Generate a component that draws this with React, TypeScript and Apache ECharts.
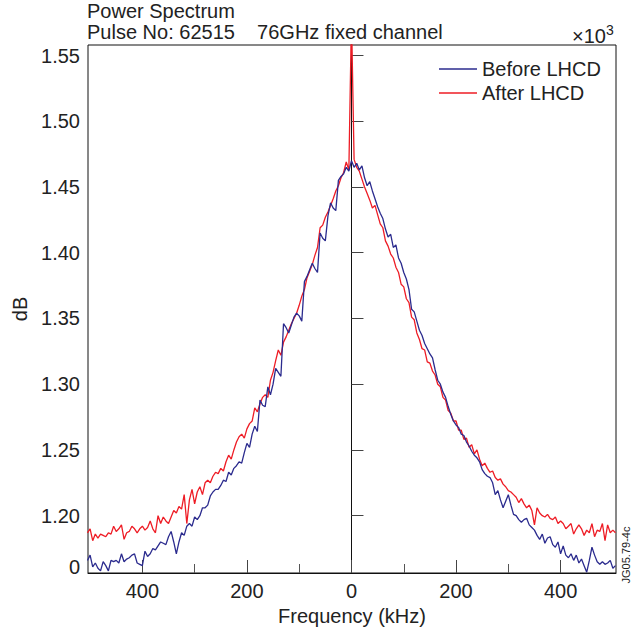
import React, { useEffect, useRef } from "react";
import * as echarts from "echarts";

// Sampling grid of the spectrum (kHz)
const FREQ_START = -505;
const FREQ_STEP = 5;

// Power spectrum before LHCD (x10^3 dB), from -505 to 505 kHz
const beforeLHCD = [
  1.166,
  1.170, 1.161, 1.164, 1.160, 1.158, 1.165, 1.162, 1.158, 1.166, 1.165,
  1.166, 1.164, 1.171, 1.165, 1.167, 1.168, 1.170, 1.171, 1.164, 1.163,
  1.162, 1.173, 1.169, 1.171, 1.175, 1.174, 1.177, 1.180, 1.179, 1.178,
  1.184, 1.188, 1.180, 1.171, 1.180, 1.187, 1.185, 1.192, 1.194, 1.192,
  1.199, 1.197, 1.200, 1.206, 1.206, 1.208, 1.215, 1.218, 1.220, 1.220,
  1.223, 1.227, 1.226, 1.233, 1.231, 1.236, 1.238, 1.241, 1.240, 1.248,
  1.255, 1.252, 1.262, 1.268, 1.264, 1.288, 1.284, 1.283, 1.298, 1.292,
  1.300, 1.312, 1.309, 1.306, 1.346, 1.343, 1.339, 1.345, 1.351, 1.354,
  1.352, 1.348, 1.378, 1.382, 1.387, 1.392, 1.388, 1.385, 1.415, 1.411,
  1.409, 1.428, 1.438, 1.434, 1.432, 1.455, 1.458, 1.460, 1.465, 1.462,
  1.470, 1.465, 1.468, 1.463, 1.466, 1.457, 1.451, 1.454, 1.447, 1.441,
  1.435, 1.430, 1.426, 1.418, 1.412, 1.414, 1.404, 1.406, 1.396, 1.392,
  1.385, 1.380, 1.372, 1.357, 1.355, 1.348, 1.341, 1.337, 1.331, 1.327,
  1.323, 1.320, 1.311, 1.303, 1.300, 1.294, 1.290, 1.283, 1.277, 1.272,
  1.269, 1.267, 1.262, 1.261, 1.256, 1.253, 1.249, 1.246, 1.244, 1.241,
  1.235, 1.232, 1.230, 1.229, 1.225, 1.216, 1.219, 1.212, 1.206, 1.211,
  1.216, 1.208, 1.201, 1.200, 1.197, 1.195, 1.197, 1.198, 1.193, 1.191,
  1.189, 1.185, 1.182, 1.186, 1.179, 1.183, 1.184, 1.178, 1.176, 1.180,
  1.171, 1.177, 1.170, 1.168, 1.171, 1.166, 1.170, 1.164, 1.167, 1.162,
  1.157, 1.166, 1.176, 1.170, 1.165, 1.163, 1.165, 1.163, 1.164, 1.166,
  1.160, 1.162,
];

// Power spectrum after LHCD (x10^3 dB), from -505 to 505 kHz
const afterLHCD = [
  1.187,
  1.190, 1.181, 1.186, 1.183, 1.186, 1.185, 1.184, 1.187, 1.186, 1.192,
  1.188, 1.190, 1.193, 1.182, 1.187, 1.188, 1.192, 1.190, 1.187, 1.190,
  1.192, 1.189, 1.191, 1.196, 1.190, 1.187, 1.200, 1.194, 1.199, 1.196,
  1.194, 1.199, 1.204, 1.202, 1.207, 1.205, 1.216, 1.194, 1.212, 1.220,
  1.209, 1.218, 1.222, 1.216, 1.225, 1.227, 1.225, 1.230, 1.233, 1.232,
  1.236, 1.234, 1.241, 1.246, 1.243, 1.250, 1.256, 1.260, 1.262, 1.259,
  1.266, 1.270, 1.272, 1.282, 1.279, 1.285, 1.290, 1.292, 1.290, 1.303,
  1.309, 1.318, 1.326, 1.322, 1.332, 1.336, 1.341, 1.346, 1.350, 1.354,
  1.360, 1.367, 1.372, 1.381, 1.386, 1.391, 1.398, 1.404, 1.419, 1.421,
  1.427, 1.431, 1.436, 1.441, 1.447, 1.451, 1.457, 1.461, 1.469, 1.463,
  1.580, 1.471, 1.465, 1.462, 1.456, 1.450, 1.445, 1.440, 1.434, 1.436,
  1.429, 1.422, 1.419, 1.409, 1.405, 1.399, 1.396, 1.389, 1.385, 1.376,
  1.374, 1.365, 1.362, 1.351, 1.349, 1.339, 1.334, 1.327, 1.326, 1.317,
  1.316, 1.310, 1.307, 1.300, 1.298, 1.290, 1.288, 1.280, 1.278, 1.272,
  1.272, 1.265, 1.265, 1.258, 1.259, 1.252, 1.254, 1.247, 1.250, 1.243,
  1.238, 1.240, 1.236, 1.233, 1.234, 1.229, 1.227, 1.228, 1.224, 1.222,
  1.219, 1.218, 1.216, 1.214, 1.210, 1.213, 1.209, 1.206, 1.208, 1.204,
  1.193, 1.206, 1.202, 1.200, 1.199, 1.201, 1.198, 1.197, 1.199, 1.194,
  1.196, 1.194, 1.190, 1.192, 1.194, 1.186, 1.190, 1.193, 1.190, 1.185,
  1.189, 1.187, 1.194, 1.184, 1.189, 1.188, 1.194, 1.181, 1.193, 1.187,
  1.189, 1.187,
];

const seriesNames = ["Before LHCD", "After LHCD"];
const xMajorTicks = [-400, -200, 0, 200, 400];
const xMinorTicks = [-300, -100, 100, 300];
const yTicks = [1.2, 1.25, 1.3, 1.35, 1.4, 1.45, 1.5, 1.55];
const yZeroLabelValue = 1.161;
const X_MIN = -504;
const X_MAX = 506;
const Y_MIN = 1.1564;
const Y_MAX = 1.558;

const FONT = "'Liberation Sans', Arial, Helvetica, sans-serif";
const TEXT = "#222";
const BLUE = "#2b2b8e";
const RED = "#ee1c25";

export default function App() {
  const ref = useRef<HTMLDivElement>(null);

  useEffect(() => {
    if (!ref.current) return;
    const chart = echarts.init(ref.current, null, { renderer: "svg" });
    const toPairs = (arr: number[]) =>
      arr.map((v, i) => [FREQ_START + i * FREQ_STEP, v]);

    chart.setOption({
      animation: false,
      backgroundColor: "#fff",
      textStyle: { fontFamily: FONT },
      grid: {
        left: 88,
        right: 25,
        top: 45,
        bottom: 60,
        show: true,
        borderColor: "#111",
        borderWidth: 1,
        backgroundColor: "transparent",
      },
      legend: {
        orient: "vertical",
        left: 434,
        top: 54,
        data: seriesNames,
        icon: "rect",
        itemWidth: 38,
        itemHeight: 1.5,
        itemGap: 4,
        textStyle: { fontSize: 20, color: TEXT, fontFamily: FONT, lineHeight: 20 },
      },
      xAxis: [
        {
          type: "value",
          min: X_MIN,
          max: X_MAX,
          name: "Frequency (kHz)",
          nameLocation: "middle",
          nameGap: 32,
          nameTextStyle: { fontSize: 20, color: TEXT, fontFamily: FONT },
          axisLine: { show: true, lineStyle: { color: "#111", width: 1 } },
          axisTick: {
            show: true,
            inside: true,
            length: 13,
            customValues: xMajorTicks,
            lineStyle: { color: "#444", width: 1 },
          },
          axisLabel: {
            show: true,
            customValues: xMajorTicks,
            margin: 8,
            fontSize: 20,
            color: TEXT,
            fontFamily: FONT,
            formatter: (v: number) => String(Math.abs(v)),
          },
          splitLine: { show: false },
        },
        {
          type: "value",
          min: X_MIN,
          max: X_MAX,
          position: "bottom",
          axisLine: { show: false },
          axisTick: {
            show: true,
            inside: true,
            length: 9,
            customValues: xMinorTicks,
            lineStyle: { color: "#555", width: 1 },
          },
          axisLabel: { show: false },
          splitLine: { show: false },
        },
      ],
      yAxis: {
        type: "value",
        min: Y_MIN,
        max: Y_MAX,
        name: "dB",
        nameLocation: "middle",
        nameGap: 56,
        nameRotate: 90,
        nameTextStyle: { fontSize: 20, color: TEXT, fontFamily: FONT },
        axisLine: { show: true, lineStyle: { color: "#111", width: 1 } },
        axisTick: {
          show: true,
          inside: true,
          length: 12,
          customValues: yTicks,
          lineStyle: { color: "#444", width: 1 },
        },
        axisLabel: {
          show: true,
          customValues: [yZeroLabelValue, ...yTicks],
          margin: 8,
          fontSize: 20,
          color: TEXT,
          fontFamily: FONT,
          formatter: (v: number) => (v < 1.18 ? "0" : v.toFixed(2)),
        },
        splitLine: { show: false },
      },
      graphic: [
        {
          type: "text",
          x: 87,
          y: 1,
          style: { text: "Power Spectrum", fontSize: 20, fontFamily: FONT, fill: TEXT, align: "left", verticalAlign: "top" },
        },
        {
          type: "text",
          x: 87,
          y: 22,
          style: { text: "Pulse No: 62515    76GHz fixed channel", fontSize: 20, fontFamily: FONT, fill: TEXT, align: "left", verticalAlign: "top" },
        },
        {
          type: "text",
          x: 572,
          y: 26,
          style: { text: "×10", fontSize: 20, fontFamily: FONT, fill: TEXT, align: "left", verticalAlign: "top" },
        },
        {
          type: "text",
          x: 606,
          y: 23,
          style: { text: "3", fontSize: 14, fontFamily: FONT, fill: TEXT, align: "left", verticalAlign: "top" },
        },
        {
          type: "text",
          x: 626,
          y: 555,
          rotation: Math.PI / 2,
          style: { text: "JG05.79-4c", fontSize: 11, fontFamily: FONT, fill: TEXT, align: "center", verticalAlign: "middle" },
        },
      ],
      series: [
        {
          name: "After LHCD",
          type: "line",
          data: toPairs(afterLHCD),
          symbol: "none",
          clip: true,
          lineStyle: { color: RED, width: 1.3 },
          itemStyle: { color: RED },
        },
        {
          name: "Before LHCD",
          type: "line",
          data: toPairs(beforeLHCD),
          symbol: "none",
          clip: true,
          lineStyle: { color: BLUE, width: 1.3 },
          itemStyle: { color: BLUE },
        },
      ],
    });

    return () => chart.dispose();
  }, []);

  return (
    <div
      ref={ref}
      style={{ position: "absolute", left: 0, top: 0, width: 641, height: 633 }}
    />
  );
}
